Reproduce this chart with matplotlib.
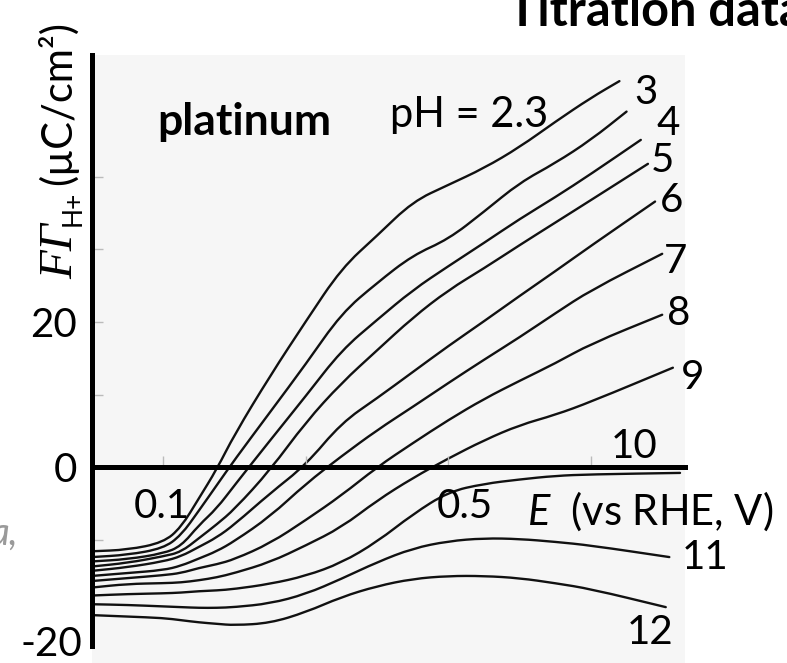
import matplotlib.pyplot as plt
from matplotlib.path import Path
from matplotlib.patches import PathPatch

plt.rcParams['font.family'] = ['Lato', 'DejaVu Sans']
plt.rcParams['mathtext.fontset'] = 'custom'
plt.rcParams['mathtext.it'] = 'Lato:italic'
plt.rcParams['mathtext.rm'] = 'Lato'

# potential grid (V vs RHE) shared by all curves, plus the last point of each curve
E_GRID = [0.0, 0.05, 0.1, 0.125, 0.15, 0.175, 0.2, 0.25, 0.3, 0.35,
          0.4, 0.45, 0.5, 0.55, 0.6, 0.65, 0.7]
E_END = [0.74, 0.75, 0.77, 0.78, 0.79, 0.80, 0.80, 0.815, 0.825, 0.81, 0.805]

# F*Gamma_H+ (uC/cm2) for each pH
Q_PH2_3 = [-11.6, -11.4, -10.4, -8.3, -4.3, -0.3, 4.5, 12.6, 20.1, 27.4,
           31.9, 36.6, 38.9, 41.2, 44.1, 47.6, 50.9, 53.2]
Q_PH3 = [-12.4, -12.1, -11.2, -9.4, -6.0, -2.5, 1.0, 7.6, 14.2, 21.2,
         25.4, 29.2, 31.4, 35.2, 39.2, 41.9, 45.1, 49.0]
Q_PH4 = [-13.0, -12.7, -11.9, -10.9, -8.0, -5.7, -2.5, 3.7, 9.8, 16.1,
         20.3, 24.4, 27.7, 30.9, 34.2, 37.2, 40.4, 45.1]
Q_PH5 = [-13.7, -13.2, -12.3, -11.7, -9.8, -7.9, -5.8, -0.4, 6.2, 11.6,
         16.1, 20.6, 24.4, 27.4, 30.6, 33.7, 36.8, 41.8]
Q_PH6 = [-14.3, -13.8, -13.0, -12.3, -11.0, -9.7, -7.9, -3.6, 0.3, 6.1,
         9.5, 13.1, 16.7, 20.1, 23.6, 27.0, 30.5, 36.6]
Q_PH7 = [-15.0, -14.6, -14.2, -13.6, -12.6, -11.6, -10.2, -6.8, -2.3, 1.5,
         5.1, 8.3, 11.6, 14.8, 17.9, 21.2, 24.4, 29.4]
Q_PH8 = [-15.7, -15.3, -14.9, -14.6, -13.9, -13.4, -12.7, -10.5, -7.3, -3.9,
         0.0, 3.3, 6.5, 9.4, 11.9, 14.3, 17.0, 21.0]
Q_PH9 = [-16.6, -16.1, -16.0, -15.9, -15.6, -15.2, -14.6, -13.1, -10.8, -8.3,
         -4.6, -1.5, 1.2, 3.7, 5.8, 7.2, 9.0, 13.7]
Q_PH10 = [-17.7, -17.5, -17.4, -17.3, -17.1, -17.0, -16.8, -16.1, -15.0, -13.2,
          -10.3, -6.5, -3.4, -2.3, -1.7, -1.2, -1.0, -0.8]
Q_PH11 = [-18.9, -19.0, -19.2, -19.3, -19.4, -19.4, -19.3, -18.8, -17.5, -15.4,
          -13.1, -11.2, -10.2, -9.8, -9.9, -10.3, -10.8, -12.4]
Q_PH12 = [-20.4, -20.6, -20.8, -21.1, -21.4, -21.6, -21.8, -21.5, -20.0, -17.9,
          -16.4, -15.4, -15.0, -15.0, -15.3, -16.0, -16.8, -19.3]

CURVES = [Q_PH2_3, Q_PH3, Q_PH4, Q_PH5, Q_PH6, Q_PH7, Q_PH8, Q_PH9,
          Q_PH10, Q_PH11, Q_PH12]

# pH labels at the right-hand end of the curves
LABEL_TEXT = ['3', '4', '5', '6', '7', '8', '9', '10', '11', '12']
LABEL_E = [0.777, 0.808, 0.801, 0.813, 0.819, 0.823, 0.842, 0.760, 0.860, 0.783]
LABEL_Q = [51.7, 47.4, 42.2, 36.8, 28.3, 21.2, 12.4, 2.8, -12.4, -22.8]


def smooth_path(xs, ys):
    # quadratic bezier through segment midpoints, data points as control points
    pts = list(zip(xs, ys))
    verts = [pts[0]]
    codes = [Path.MOVETO]
    mids = [((a[0] + b[0]) / 2, (a[1] + b[1]) / 2) for a, b in zip(pts[:-1], pts[1:])]
    verts.append(mids[0])
    codes.append(Path.LINETO)
    for i in range(1, len(pts) - 1):
        verts += [pts[i], mids[i]]
        codes += [Path.CURVE3, Path.CURVE3]
    verts.append(pts[-1])
    codes.append(Path.LINETO)
    return Path(verts, codes)


fig = plt.figure(figsize=(7.87, 6.63), dpi=100)
ax = fig.add_axes([92 / 787, 0, 593 / 787, 608 / 663])
ax.set_xlim(0, 0.832)
ax.set_ylim(-27.0, 56.8)
ax.set_facecolor('#f6f6f6')

for q, e_end in zip(CURVES, E_END):
    p = smooth_path(E_GRID + [e_end], q)
    ax.add_patch(PathPatch(p, fill=False, edgecolor='#111111', lw=1.7,
                           capstyle='round', joinstyle='round'))

for t, e, q in zip(LABEL_TEXT, LABEL_E, LABEL_Q):
    ax.text(e, q, t, fontsize=29, ha='center', va='center', clip_on=False)

# axes: thick black lines, x axis through zero
for s in ['top', 'right']:
    ax.spines[s].set_visible(False)
ax.spines['left'].set_linewidth(3.6)
ax.spines['left'].set_bounds(-24.6, 56.8)
ax.spines['bottom'].set_linewidth(3.6)
ax.spines['bottom'].set_position(('data', 0))

ax.set_xticks([0.1, 0.3, 0.5, 0.7])
ax.tick_params(axis='x', direction='in', length=8, width=1, color='#bbbbbb',
               labelbottom=False)
ax.set_yticks([-10, 0, 10, 20, 30, 40])
ax.set_yticklabels(['', '0', '', '20', '', ''])
ax.tick_params(axis='y', direction='in', length=8, width=1, color='#bbbbbb',
               labelsize=29, pad=11)

ax.text(-0.014, -26.1, '-20', fontsize=29, ha='right', va='baseline', clip_on=False)
ax.text(0.098, -7.0, '0.1', fontsize=29, ha='center', va='baseline')
ax.text(0.523, -7.0, '0.5', fontsize=29, ha='center', va='baseline')
ax.text(0.610, -8.0, '$\\mathit{E}$  (vs RHE, V)', fontsize=30, ha='left',
        va='baseline', clip_on=False)
ax.text(0.091, 45.8, 'platinum', fontsize=32, fontweight='bold', ha='left', va='baseline')
ax.text(0.418, 46.9, 'pH = 2.3', fontsize=30, ha='left', va='baseline')

# y label, built from pieces: italic F Gamma, subscript H+, unit
fig.text(72 / 787, 1 - 279 / 663, 'F\u0393', family=['Liberation Serif'],
         style='italic', fontsize=34, rotation=90, rotation_mode='anchor',
         ha='left', va='baseline')
fig.text(81 / 787, 1 - 226 / 663, 'H+', fontsize=19, rotation=90,
         rotation_mode='anchor', ha='left', va='baseline')
fig.text(71 / 787, 1 - 185 / 663, '(\u00b5C/cm\u00b2)', fontsize=30, rotation=90,
         rotation_mode='anchor', ha='left', va='baseline')

fig.text(508 / 787, 1 - 26 / 663, 'Titration data', fontsize=35,
         fontweight='bold', ha='left', va='baseline')
fig.text(18 / 787, 1 - 545 / 663, 'a,', fontsize=28, style='italic',
         color='#9a9a9a', ha='right', va='baseline')

fig.savefig('out.png', dpi=100)
